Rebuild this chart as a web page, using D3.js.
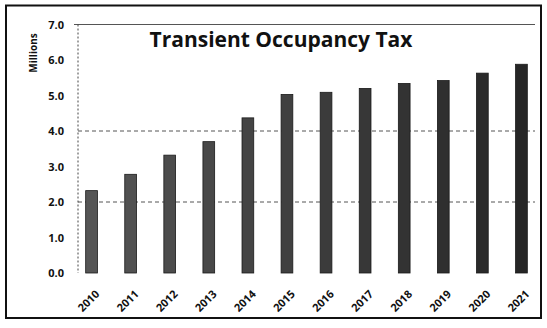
<!DOCTYPE html>
<html>
<head>
<meta charset="utf-8">
<script src="https://cdn.jsdelivr.net/npm/d3@7"></script>
<style>
  html, body { margin: 0; padding: 0; background: #fff; }
  svg { display: block; }
  text { font-family: "Open Sans", "DejaVu Sans", sans-serif; font-weight: 700; fill: #111; }
</style>
</head>
<body>
<svg id="chart" width="547" height="328"></svg>
<script>
// Transient Occupancy Tax revenue, in millions of dollars
const years = ["2010", "2011", "2012", "2013", "2014", "2015", "2016", "2017", "2018", "2019", "2020", "2021"];
const revenue = [2.32, 2.78, 3.32, 3.70, 4.37, 5.03, 5.09, 5.20, 5.34, 5.42, 5.63, 5.88];
const yTicks = [0, 1, 2, 3, 4, 5, 6, 7];
const gridValues = [2, 4];
const titleText = "Transient Occupancy Tax";
const unitLabel = "Millions";

const svg = d3.select("#chart");

// outer frame
svg.append("rect")
  .attr("x", 6).attr("y", 5.5).attr("width", 535).attr("height", 312.5)
  .attr("fill", "none").attr("stroke", "#111").attr("stroke-width", 2);

const x = d3.scaleBand().domain(years).range([72, 541]).paddingInner(0.7).paddingOuter(0.35);
const y = d3.scaleLinear().domain([0, 7]).range([273, 24.5]);

const plotLeft = 78, plotRight = 535;

// horizontal gridlines
svg.append("g").selectAll("line").data(gridValues).join("line")
  .attr("x1", plotLeft).attr("x2", plotRight)
  .attr("y1", d => y(d)).attr("y2", d => y(d))
  .attr("stroke", "#555").attr("stroke-width", 1).attr("stroke-dasharray", "4,3");

// top border line at 7.0
svg.append("line")
  .attr("x1", 74).attr("x2", plotRight)
  .attr("y1", y(7)).attr("y2", y(7))
  .attr("stroke", "#555").attr("stroke-width", 1.2);

// vertical axis line (dotted)
svg.append("line")
  .attr("x1", plotLeft).attr("x2", plotLeft)
  .attr("y1", y(7)).attr("y2", y(0))
  .attr("stroke", "#444").attr("stroke-width", 1).attr("stroke-dasharray", "2,2");

// bars
svg.append("g").selectAll("rect").data(years).join("rect")
  .attr("x", d => x(d))
  .attr("width", x.bandwidth())
  .attr("y", (d, i) => y(revenue[i]))
  .attr("height", (d, i) => y(0) - y(revenue[i]))
  .attr("fill", (d, i) => d3.interpolateRgb("#555", "#262626")(i / (years.length - 1)))
  .attr("stroke", "#1a1a1a").attr("stroke-width", 0.8);

// y axis tick labels
const yAxis = d3.axisLeft(y).tickValues(yTicks).tickFormat(d3.format(".1f")).tickSize(0).tickPadding(0);
const yg = svg.append("g").attr("transform", "translate(64,0)").call(yAxis);
yg.select(".domain").remove();
yg.selectAll("text").style("font-size", "11px").style("font-family", "'Open Sans', sans-serif").style("font-weight", "700").attr("fill", "#111");

// x axis rotated labels
const xAxis = d3.axisBottom(x).tickSize(0).tickPadding(0);
const xg = svg.append("g").attr("transform", `translate(0,${y(0)})`).call(xAxis);
xg.select(".domain").remove();
xg.selectAll("text")
  .style("font-size", "11px").style("font-family", "'Open Sans', sans-serif").style("font-weight", "700")
  .attr("fill", "#111")
  .attr("text-anchor", "end")
  .attr("y", 0)
  .attr("dy", "0.35em")
  .attr("transform", "translate(6,19) rotate(-45)");

// unit label
svg.append("text")
  .attr("transform", "translate(37,53) rotate(-90)")
  .attr("text-anchor", "middle")
  .style("font-size", "10px")
  .text(unitLabel);

// title
svg.append("text")
  .attr("x", 281).attr("y", 47)
  .attr("text-anchor", "middle")
  .style("font-size", "21px")
  .text(titleText);
</script>
</body>
</html>
